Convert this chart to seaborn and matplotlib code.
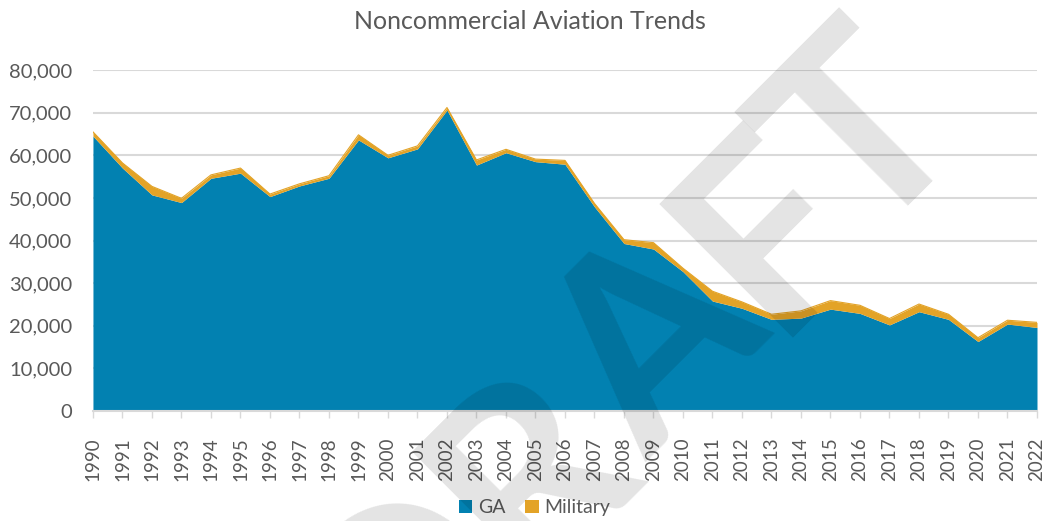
import numpy as np
import pandas as pd
import matplotlib
matplotlib.use("Agg")
import matplotlib.pyplot as plt
from matplotlib.patches import Patch
from matplotlib.ticker import FuncFormatter
import seaborn as sns

# ---- data ----
years = list(range(1990, 2023))
year_labels = [str(y) for y in years]
ga = [64500, 57000, 50700, 48900, 54600, 55800, 50300, 52800, 54600, 63600,
      59400, 61500, 70600, 57700, 60600, 58500, 57900, 47900, 39300, 38000,
      32700, 25800, 24100, 21500, 21800, 23900, 22900, 20200, 23300, 21500,
      16300, 20400, 19600]
military = [1000, 1200, 2000, 1000, 800, 1200, 600, 500, 600, 1200,
            600, 700, 600, 1200, 800, 600, 900, 800, 900, 1500,
            800, 2300, 1500, 1200, 1700, 2000, 1900, 1500, 1800, 1200,
            900, 900, 1200]
series_names = ["GA", "Military"]
y_ticks = [0, 10000, 20000, 30000, 40000, 50000, 60000, 70000, 80000]
title = "Noncommercial Aviation Trends"
watermark = "DRAFT"

df = pd.DataFrame({"Year": years, "GA": ga, "Military": military})
df["Total"] = df["GA"] + df["Military"]

sns.set_theme(style="white")
plt.rcParams["font.family"] = ["Lato", "DejaVu Sans"]

BLUE = "#0281B1"
ORANGE = "#E3A327"
TXT = "#595959"
GRID = "#D9D9D9"

W, H = 1048, 521
fig = plt.figure(figsize=(W / 100, H / 100), dpi=100)
ax = fig.add_axes([0.0887, 0.2111, 0.9008, 0.6545])

ax.stackplot(df["Year"], df["GA"], df["Military"], colors=[BLUE, ORANGE],
             linewidth=0, zorder=2)
sns.lineplot(data=df, x="Year", y="Total", ax=ax, color=ORANGE, linewidth=0.8,
             zorder=3, legend=False)

ax.set_xlim(1990, 2022)
ax.set_ylim(0, 80000)
ax.set_yticks(y_ticks)
ax.yaxis.set_major_formatter(FuncFormatter(lambda v, p: f"{int(v):,}"))
ax.set_xticks(years)
ax.set_xticklabels(year_labels, rotation=90)
ax.grid(axis="y", color=GRID, linewidth=1.5, zorder=0)
ax.set_axisbelow(True)
for s in ["left", "right", "top"]:
    ax.spines[s].set_visible(False)
ax.spines["bottom"].set_color(GRID)
ax.spines["bottom"].set_linewidth(1.5)
ax.tick_params(axis="x", which="major", bottom=True, length=5, width=1,
               color=GRID, labelsize=13.5, labelcolor=TXT, pad=14)
ax.tick_params(axis="y", left=False, labelsize=14.5, labelcolor=TXT, pad=9)
ax.set_xlabel("")
ax.set_ylabel("")

fig.text(0.506, 0.958, title, ha="center", va="center", fontsize=18, color=TXT)

handles = [Patch(facecolor=BLUE, edgecolor="none"),
           Patch(facecolor=ORANGE, edgecolor="none")]
fig.legend(handles, series_names, loc="center", bbox_to_anchor=(0.51, 0.025),
           ncol=2, frameon=False, fontsize=14, labelcolor=TXT,
           handlelength=0.7, handleheight=0.7, handletextpad=0.3,
           columnspacing=1.0)

# watermark: letters along a 45-degree baseline (layout offsets in pixels)
wm_origin = (555.0, 555.0)          # point on the baseline, image pixels
wm_offsets = [-132, 40, 221, 380, 515]  # letter centres along the baseline
for ch, u in zip(watermark, wm_offsets):
    px = wm_origin[0] + u / np.sqrt(2)
    py = wm_origin[1] - u / np.sqrt(2)
    fig.text(px / W, 1 - py / H, ch, ha="center", va="baseline",
             rotation=45, rotation_mode="anchor", fontsize=187,
             fontweight="bold", color="black", alpha=0.11, zorder=10)

fig.savefig("out.png", dpi=100)
